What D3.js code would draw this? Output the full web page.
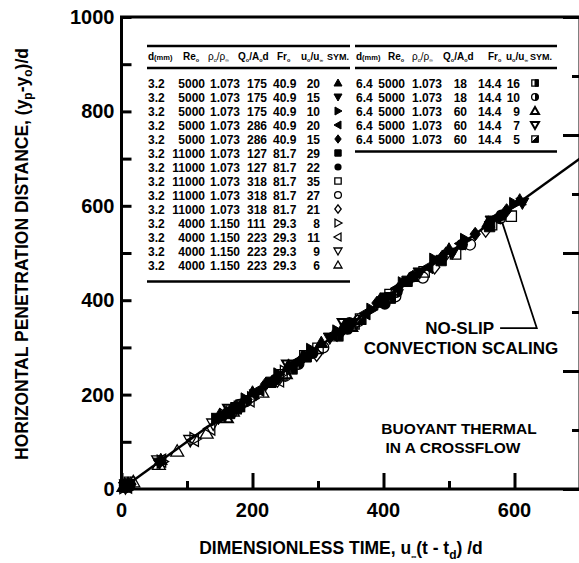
<!DOCTYPE html>
<html><head><meta charset="utf-8">
<script src="https://cdn.jsdelivr.net/npm/d3@7"></script>
<style>
body{margin:0;background:#fff}
svg{display:block}
text{font-family:"Liberation Sans",Arial,sans-serif;font-weight:bold;fill:#000}
</style>
</head><body>
<svg id="c" width="579" height="563"></svg>
<script>
// ---------------- DATA ----------------
const xTicks = [0, 100, 200, 300, 400, 500, 600, 700];
const xTickLabels = ["0", "", "200", "", "400", "", "600", ""];
const yTicks = [0, 100, 200, 300, 400, 500, 600, 700, 800, 900, 1000];
const yTickLabels = ["0", "", "200", "", "400", "", "600", "", "800", "", "1000"];
const rightTicks = [0, 125, 250, 375, 500, 625, 750, 875, 1000];

const fitX = [0, 700];
const fitY = [0, 700];

// table 1
const tA_d   = ["3.2","3.2","3.2","3.2","3.2","3.2","3.2","3.2","3.2","3.2","3.2","3.2","3.2","3.2"];
const tA_Re  = ["5000","5000","5000","5000","5000","11000","11000","11000","11000","11000","4000","4000","4000","4000"];
const tA_rho = ["1.073","1.073","1.073","1.073","1.073","1.073","1.073","1.073","1.073","1.073","1.150","1.150","1.150","1.150"];
const tA_Q   = ["175","175","175","286","286","127","127","318","318","318","111","223","223","223"];
const tA_Fr  = ["40.9","40.9","40.9","40.9","40.9","81.7","81.7","81.7","81.7","81.7","29.3","29.3","29.3","29.3"];
const tA_u   = ["20","15","10","20","15","29","22","35","27","21","8","11","9","6"];
const tA_sym = ["triUp","triDown","triRight","triLeft","diamond","square","circle","oSquare","oCircle","oDiamond","oTriRight","oTriLeft","oTriDown","oTriUp"];
// table 2
const tB_d   = ["6.4","6.4","6.4","6.4","6.4"];
const tB_Re  = ["5000","5000","5000","5000","5000"];
const tB_rho = ["1.073","1.073","1.073","1.073","1.073"];
const tB_Q   = ["18","18","60","60","60"];
const tB_Fr  = ["14.4","14.4","14.4","14.4","14.4"];
const tB_u   = ["16","10","9","7","5"];
const tB_sym = ["halfSquare","halfCircle","thTriUp","thTriDown","diagSquare"];

// series points [x, y]
const s_triUp     = [[10,12],[60,62],[150,158],[200,205],[255,262],[305,310],[340,346],[395,402],[445,450],[500,508],[560,565],[608,612]];
const s_triDown   = [[8,6],[58,55],[148,150],[205,200],[262,258],[318,320],[352,350],[405,405],[455,458],[505,500],[565,568],[612,606]];
const s_triRight  = [[12,10],[145,147],[190,190],[240,243],[290,295],[330,334],[382,380],[430,436],[478,486],[525,528],[600,604]];
const s_triLeft   = [[6,8],[152,155],[210,210],[268,270],[322,326],[372,372],[420,425],[468,470],[518,520],[572,575]];
const s_diamond   = [[10,10],[160,162],[220,222],[278,280],[335,332],[390,394],[440,444],[490,492],[540,540],[588,590]];
const s_square    = [[9,8],[165,160],[228,226],[282,280],[342,340],[398,396],[436,440],[488,484],[562,556]];
const s_circle    = [[7,7],[170,168],[235,232],[292,288],[348,352],[402,392],[445,450],[520,518],[580,580]];
const s_oSquare   = [[12,14],[175,170],[245,242],[300,298],[355,350],[410,412],[462,460],[510,498],[565,560],[595,578]];
const s_oCircle   = [[10,6],[180,178],[250,240],[308,300],[362,356],[418,408],[460,448],[532,518],[578,574]];
const s_oDiamond  = [[14,10],[172,165],[238,230],[298,285],[360,355],[422,422],[478,470],[495,497],[556,548]];
const s_oTriRight = [[5,4],[62,58],[112,106],[158,156],[200,192],[250,248]];
const s_oTriLeft  = [[8,5],[60,60],[110,104],[135,128],[195,188],[240,230]];
const s_oTriDown  = [[6,3],[56,60],[105,103],[140,138],[185,178]];
const s_oTriUp    = [[18,15],[57,52],[85,80],[130,118],[170,165],[215,205]];
const s_halfSquare= [[5,5],[180,175],[260,255],[330,325],[410,405]];
const s_halfCircle= [[6,4],[190,186],[270,265],[345,340],[420,418]];
const s_thTriUp   = [[4,6],[160,152],[250,245],[350,345]];
const s_thTriDown = [[8,8],[165,168],[255,262],[340,350]];
const s_diagSquare= [[10,9],[175,172],[280,282],[365,360]];

// annotations (data units)
const noSlipLeader = [[578,341],[634,341],[581,566]];

// ---------------- CHART ----------------
const svg = d3.select("#c");
const X0 = 121.5, X1 = 580, Y0 = 489, Y1 = 17;
const x = d3.scaleLinear().domain([0,700]).range([X0,X1]);
const y = d3.scaleLinear().domain([0,1000]).range([Y0,Y1]);

function stext(parent, px, py, size, anchor, rot){
  return parent.append("text")
    .attr("transform", `translate(${px},${py})` + (rot ? ` rotate(${rot})` : ""))
    .attr("text-anchor", anchor || "start").style("font-size", size + "px");
}

// axes via d3 axis generators (ticks inward)
svg.append("g").attr("transform",`translate(${X0},0)`)
  .call(d3.axisRight(y).tickValues(yTicks).tickSize(10).tickFormat(""));
const gB = svg.append("g").attr("transform",`translate(0,${Y0})`)
  .call(d3.axisTop(x).tickValues(xTicks).tickSize(0).tickFormat(""));
gB.selectAll(".tick line").attr("y2", (d,i)=> i%2===0 ? -16 : -8);
const gR = svg.append("g").attr("transform",`translate(${X1},0)`)
  .call(d3.axisLeft(y).tickValues(rightTicks).tickSize(0).tickFormat(""));
gR.selectAll(".tick line").attr("x2", (d,i)=> i%2===0 ? -17 : -8);
svg.selectAll(".domain").remove();
svg.selectAll(".tick line").attr("stroke","#000").attr("stroke-width",3);

// frame
svg.append("rect").attr("x",X0).attr("y",Y1).attr("width",X1-X0).attr("height",Y0-Y1)
  .attr("fill","none").attr("stroke","#000").attr("stroke-width",3);

// tick labels
yTicks.forEach((d,i)=>{ if (yTickLabels[i]) stext(svg, X0-7, y(d)+7, 20, "end").text(yTickLabels[i]); });
xTicks.forEach((d,i)=>{ if (xTickLabels[i]) stext(svg, x(d), Y0+28, 20, "middle").text(xTickLabels[i]); });

// axis titles
const xt = stext(svg, 341, 554, 17.5, "middle");
xt.append("tspan").text("DIMENSIONLESS TIME, u");
xt.append("tspan").attr("dy",5).style("font-size","7px").text("\u221E");
xt.append("tspan").attr("dy",-5).text("(t - t");
xt.append("tspan").attr("dy",5).style("font-size","12px").text("d");
xt.append("tspan").attr("dy",-5).text(") /d");

const yt = stext(svg, 28, 254, 17.5, "middle", -90);
yt.append("tspan").text("HORIZONTAL PENETRATION DISTANCE,  (y");
yt.append("tspan").attr("dy",4).style("font-size","12px").text("p");
yt.append("tspan").attr("dy",-4).text("-y");
yt.append("tspan").attr("dy",4).style("font-size","12px").text("o");
yt.append("tspan").attr("dy",-4).text(")/d");

// fit line
svg.append("path").datum(fitX.map((v,i)=>[v,fitY[i]]))
  .attr("d", d3.line().x(d=>x(d[0])).y(d=>y(d[1])))
  .attr("fill","none").attr("stroke","#000").attr("stroke-width",2.5);

// marker drawer
function marker(g, type, cx, cy, s){
  const P = pts => "M" + pts.map(p=>[cx+p[0]*s, cy+p[1]*s].join(",")).join("L") + "Z";
  const up = [[0,-1],[1,0.75],[-1,0.75]], dn=[[0,1],[1,-0.75],[-1,-0.75]];
  const rt = [[1,0],[-0.75,-1],[-0.75,1]], lf=[[-1,0],[0.75,-1],[0.75,1]];
  const dia = [[0,-1.05],[0.8,0],[0,1.05],[-0.8,0]];
  const sq = [[-0.8,-0.8],[0.8,-0.8],[0.8,0.8],[-0.8,0.8]];
  const filled = (d)=> g.append("path").attr("d",d).attr("fill","#000").attr("stroke","#000").attr("stroke-width",1);
  const open = (d,w)=> g.append("path").attr("d",d).attr("fill","none").attr("stroke","#000").attr("stroke-width",w||1.3);
  switch(type){
    case "triUp": filled(P(up)); break;
    case "triDown": filled(P(dn)); break;
    case "triRight": filled(P(rt)); break;
    case "triLeft": filled(P(lf)); break;
    case "diamond": filled(P(dia)); break;
    case "square": filled(P(sq)); break;
    case "circle": g.append("circle").attr("cx",cx).attr("cy",cy).attr("r",0.9*s).attr("fill","#000"); break;
    case "oSquare": open(P(sq)); break;
    case "oCircle": g.append("circle").attr("cx",cx).attr("cy",cy).attr("r",0.85*s).attr("fill","none").attr("stroke","#000").attr("stroke-width",1.3); break;
    case "oDiamond": open(P(dia)); break;
    case "oTriRight": open(P(rt)); break;
    case "oTriLeft": open(P(lf)); break;
    case "oTriDown": open(P(dn)); break;
    case "oTriUp": open(P(up)); break;
    case "thTriUp": open(P(up),2); break;
    case "thTriDown": open(P(dn),2); break;
    case "halfSquare":
      open(P(sq),1.3); filled(P([[0,-0.8],[0.8,-0.8],[0.8,0.8],[0,0.8]])); break;
    case "diagSquare":
      open(P(sq),1.3); filled(P([[0.8,-0.8],[0.8,0.8],[-0.8,0.8]])); break;
    case "halfCircle":
      g.append("circle").attr("cx",cx).attr("cy",cy).attr("r",0.85*s).attr("fill","none").attr("stroke","#000").attr("stroke-width",1.3);
      g.append("path").attr("d",`M${cx},${cy-0.85*s}A${0.85*s},${0.85*s} 0 0 1 ${cx},${cy+0.85*s}Z`).attr("fill","#000");
      break;
  }
}

const seriesList = [
  ["triUp",s_triUp],["triDown",s_triDown],["triRight",s_triRight],["triLeft",s_triLeft],
  ["diamond",s_diamond],["square",s_square],["circle",s_circle],["oSquare",s_oSquare],
  ["oCircle",s_oCircle],["oDiamond",s_oDiamond],["oTriRight",s_oTriRight],["oTriLeft",s_oTriLeft],
  ["oTriDown",s_oTriDown],["oTriUp",s_oTriUp],["halfSquare",s_halfSquare],["halfCircle",s_halfCircle],
  ["thTriUp",s_thTriUp],["thTriDown",s_thTriDown],["diagSquare",s_diagSquare]
];
const gm = svg.append("g");
seriesList.forEach(([t,pts])=> pts.forEach(p=> marker(gm, t, x(p[0]), y(p[1]), 6.5)));

// annotations
svg.append("path").datum(noSlipLeader)
  .attr("d", d3.line().x(d=>x(d[0])).y(d=>y(d[1])))
  .attr("fill","none").attr("stroke","#000").attr("stroke-width",1.8);
stext(svg, x(noSlipLeader[0][0])-6, y(noSlipLeader[0][1])+6, 17, "end").text("NO-SLIP");
stext(svg, 461, 353.5, 17, "middle").text("CONVECTION SCALING");
stext(svg, 459, 434, 15.5, "middle").text("BUOYANT THERMAL");
stext(svg, 453, 453, 15.5, "middle").text("IN A CROSSFLOW");

// tables
const RULE_TOP = 46, RULE_HEAD = 68, HEAD_Y = 59.5, ROW0 = 87.5, ROW_STEP = 14;
function header(g, cols){
  const fs = "10px", ss = "5.5px";
  let t = g.append("text").attr("x",cols[0]).attr("y",HEAD_Y).style("font-size",fs);
  t.append("tspan").text("d"); t.append("tspan").style("font-size","7.5px").text("(mm)");
  t = g.append("text").attr("x",cols[1]).attr("y",HEAD_Y).style("font-size",fs);
  t.append("tspan").text("Re"); t.append("tspan").attr("dy",2).style("font-size",ss).text("o");
  t = g.append("text").attr("x",cols[2]).attr("y",HEAD_Y).style("font-size",fs).style("font-weight","normal");
  t.append("tspan").text("\u03C1"); t.append("tspan").attr("dy",2).style("font-size",ss).text("o");
  t.append("tspan").attr("dy",-2).text("/\u03C1"); t.append("tspan").attr("dy",2).style("font-size","5px").text("\u221E");
  t = g.append("text").attr("x",cols[3]).attr("y",HEAD_Y).style("font-size",fs);
  t.append("tspan").text("Q"); t.append("tspan").attr("dy",2).style("font-size",ss).text("o");
  t.append("tspan").attr("dy",-2).text("/A"); t.append("tspan").attr("dy",2).style("font-size",ss).text("o");
  t.append("tspan").attr("dy",-2).text("d");
  t = g.append("text").attr("x",cols[4]).attr("y",HEAD_Y).style("font-size",fs);
  t.append("tspan").text("Fr"); t.append("tspan").attr("dy",2).style("font-size",ss).text("o");
  t = g.append("text").attr("x",cols[5]).attr("y",HEAD_Y).style("font-size",fs);
  t.append("tspan").text("u"); t.append("tspan").attr("dy",2).style("font-size",ss).text("o");
  t.append("tspan").attr("dy",-2).text("/u"); t.append("tspan").attr("dy",2).style("font-size","5px").text("\u221E");
  g.append("text").attr("x",cols[6]).attr("y",HEAD_Y).style("font-size","9px").text("SYM.");
}
function table(g, x0, x1, hcols, dcols, cols, syms, bottomGap){
  g.append("line").attr("x1",x0).attr("x2",x1).attr("y1",RULE_TOP).attr("y2",RULE_TOP).attr("stroke","#000").attr("stroke-width",2.5);
  g.append("line").attr("x1",x0).attr("x2",x1).attr("y1",RULE_HEAD).attr("y2",RULE_HEAD).attr("stroke","#000").attr("stroke-width",2.5);
  header(g, hcols);
  const rowY = i => ROW0 + ROW_STEP*i;
  cols.forEach((arr,ci)=>{
    const [cx,anchor] = dcols[ci];
    g.append("g").selectAll("text").data(arr).join("text")
      .attr("x",cx).attr("y",(d,i)=>rowY(i)).attr("text-anchor",anchor)
      .style("font-size","12px").text(d=>d);
  });
  syms.forEach((s,i)=> marker(g, s, dcols[6][0], rowY(i)-4.5, 4));
  const yb = rowY(syms.length-1) + bottomGap;
  g.append("line").attr("x1",x0).attr("x2",x1).attr("y1",yb).attr("y2",yb).attr("stroke","#000").attr("stroke-width",2.5);
}
table(svg.append("g"), 147, 350,
  [148,183,208,238,277,301,327],
  [[148,"start"],[205,"end"],[210,"start"],[247,"start"],[273,"start"],[320,"end"],[338,"middle"]],
  [tA_d,tA_Re,tA_rho,tA_Q,tA_Fr,tA_u], tA_sym, 12);
table(svg.append("g"), 355, 557,
  [356,388,412,443,488,506,530],
  [[356,"start"],[405,"end"],[412,"start"],[467,"end"],[478,"start"],[520,"end"],[535,"middle"]],
  [tB_d,tB_Re,tB_rho,tB_Q,tB_Fr,tB_u], tB_sym, 8);
</script>
</body></html>
